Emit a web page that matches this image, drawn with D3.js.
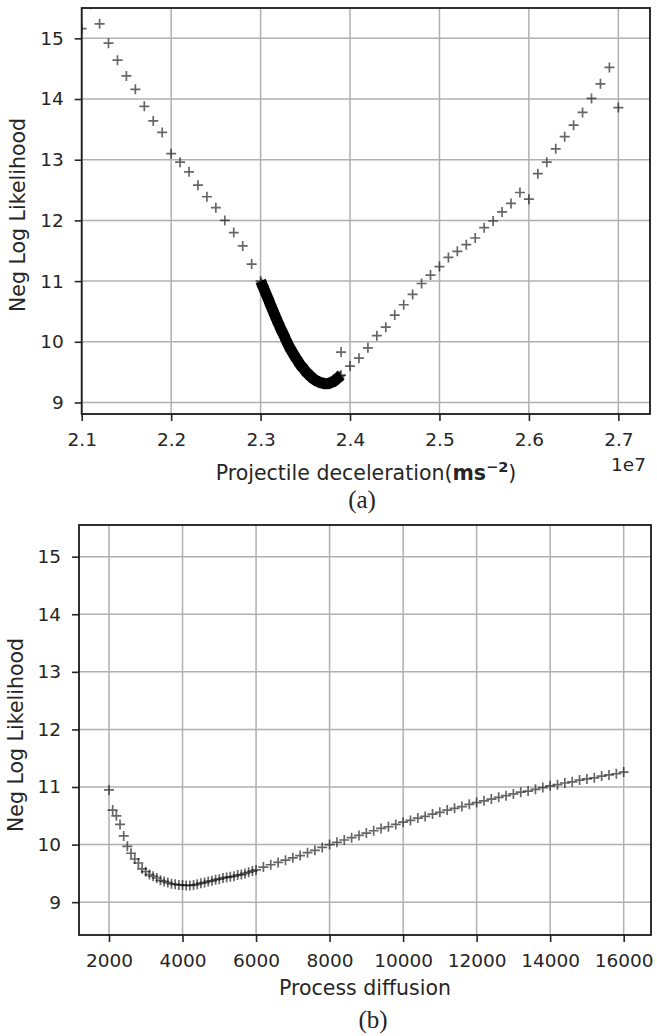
<!DOCTYPE html>
<html>
<head>
<meta charset="utf-8">
<script src="https://cdn.jsdelivr.net/npm/d3@7"></script>
<style>
body{margin:0;background:#fff;}
text{font-family:"DejaVu Sans",sans-serif;fill:#262626;}
</style>
</head>
<body>
<script>
// (a) coarse scan, deceleration in units of 1e7
var decelX = [2.10,2.11,2.12,2.13,2.14,2.15,2.16,2.17,2.18,2.19,2.20,2.21,2.22,2.23,2.24,2.25,2.26,2.27,2.28,2.29,
              2.39,2.40,2.41,2.42,2.43,2.44,2.45,2.46,2.47,2.48,2.49,2.50,2.51,2.52,2.53,2.54,2.55,2.56,2.57,2.58,
              2.59,2.60,2.61,2.62,2.63,2.64,2.65,2.66,2.67,2.68,2.69,2.70];
var decelNLL = [15.16,15.56,15.24,14.92,14.64,14.38,14.16,13.88,13.64,13.45,13.10,12.96,12.80,12.58,12.39,12.21,12.00,11.80,11.58,11.28,
                9.83,9.60,9.73,9.90,10.10,10.24,10.44,10.61,10.78,10.96,11.10,11.24,11.39,11.49,11.60,11.71,11.88,11.99,12.14,12.28,
                12.46,12.35,12.77,12.96,13.18,13.38,13.57,13.78,14.01,14.25,14.52,13.86];
// (a) fine scan near the minimum, 2.300 .. 2.390
var fineX = [2.300,2.301,2.302,2.303,2.304,2.305,2.306,2.307,2.308,2.309,2.310,2.311,2.312,2.313,2.314,2.315,2.316,2.317,2.318,2.319,
             2.320,2.321,2.322,2.323,2.324,2.325,2.326,2.327,2.328,2.329,2.330,2.331,2.332,2.333,2.334,2.335,2.336,2.337,2.338,2.339,
             2.340,2.341,2.342,2.343,2.344,2.345,2.346,2.347,2.348,2.349,2.350,2.351,2.352,2.353,2.354,2.355,2.356,2.357,2.358,2.359,
             2.360,2.361,2.362,2.363,2.364,2.365,2.366,2.367,2.368,2.369,2.370,2.371,2.372,2.373,2.374,2.375,2.376,2.377,2.378,2.379,
             2.380,2.381,2.382,2.383,2.384,2.385,2.386,2.387,2.388,2.389,2.390];
var fineNLL = [11.00,10.97,10.93,10.90,10.86,10.83,10.79,10.76,10.72,10.69,10.65,10.61,10.58,10.54,10.51,10.47,10.44,10.40,10.37,10.33,
               10.30,10.27,10.23,10.20,10.17,10.14,10.11,10.08,10.04,10.01,9.98,9.95,9.92,9.89,9.87,9.84,9.82,9.79,9.77,9.74,
               9.72,9.70,9.68,9.65,9.63,9.61,9.59,9.58,9.56,9.54,9.52,9.50,9.49,9.47,9.46,9.44,9.43,9.42,9.40,9.39,
               9.38,9.37,9.36,9.35,9.35,9.34,9.33,9.33,9.32,9.32,9.32,9.31,9.31,9.31,9.31,9.31,9.31,9.32,9.32,9.33,
               9.34,9.34,9.35,9.36,9.37,9.39,9.40,9.41,9.42,9.44,9.45];
// (b) process diffusion scan
var diffX = [2000,2100,2200,2300,2400,2500,2600,2700,2800,2900,3000,3100,3200,3300,3400,3500,3600,3700,3800,3900,
             4000,4100,4200,4300,4400,4500,4600,4700,4800,4900,5000,5100,5200,5300,5400,5500,5600,5700,5800,5900,
             6000,6200,6400,6600,6800,7000,7200,7400,7600,7800,8000,8200,8400,8600,8800,9000,9200,9400,9600,9800,
             10000,10200,10400,10600,10800,11000,11200,11400,11600,11800,12000,12200,12400,12600,12800,13000,13200,13400,13600,13800,
             14000,14200,14400,14600,14800,15000,15200,15400,15600,15800,16000];
var diffNLL = [10.95,10.60,10.50,10.35,10.15,9.97,9.85,9.75,9.68,9.58,9.53,9.48,9.45,9.42,9.38,9.36,9.34,9.32,9.31,9.30,
               9.30,9.29,9.29,9.30,9.31,9.33,9.34,9.36,9.37,9.39,9.40,9.42,9.43,9.44,9.45,9.47,9.48,9.50,9.52,9.54,
               9.56,9.61,9.65,9.69,9.73,9.77,9.81,9.86,9.90,9.95,10.00,10.04,10.08,10.12,10.16,10.20,10.24,10.28,10.31,10.35,
               10.39,10.42,10.46,10.49,10.53,10.56,10.60,10.63,10.66,10.70,10.73,10.76,10.79,10.82,10.85,10.88,10.91,10.93,10.96,10.99,
               11.02,11.04,11.07,11.09,11.12,11.14,11.16,11.19,11.21,11.23,11.26];

var decelTicks = [2.1,2.2,2.3,2.4,2.5,2.6,2.7];
var diffTicks = [2000,4000,6000,8000,10000,12000,14000,16000];
var nllTicks = [9,10,11,12,13,14,15];

var svg = d3.select("body").append("svg").attr("width",657).attr("height",1036);
var plus = "M-5,0H5M0,-5V5"; // matplotlib '+' marker

function panel(id, box, xDom, yDom, xTicks, xFmt, sets, dense) {
  var x = d3.scaleLinear().domain(xDom).range([box.l, box.r]);
  var y = d3.scaleLinear().domain(yDom).range([box.b, box.t]);
  var g = svg.append("g");

  g.append("clipPath").attr("id", id).append("rect")
    .attr("x", box.l).attr("y", box.t).attr("width", box.r - box.l).attr("height", box.b - box.t);

  // grid
  g.selectAll("line.gx").data(xTicks).join("line").attr("class","gx")
    .attr("x1", d => x(d)).attr("x2", d => x(d)).attr("y1", box.t).attr("y2", box.b)
    .attr("stroke","#b0b0b0").attr("stroke-width",1.5);
  g.selectAll("line.gy").data(nllTicks).join("line").attr("class","gy")
    .attr("y1", d => y(d)).attr("y2", d => y(d)).attr("x1", box.l).attr("x2", box.r)
    .attr("stroke","#b0b0b0").attr("stroke-width",1.5);

  var pts = g.append("g").attr("clip-path","url(#"+id+")");
  // the fine scan is so dense its markers merge into a solid band
  if (dense) {
    pts.append("path").datum(d3.zip(dense[0], dense[1]))
      .attr("d", d3.line().x(d => x(d[0])).y(d => y(d[1])))
      .attr("fill","none").attr("stroke","#000").attr("stroke-width",11).attr("stroke-linejoin","round");
  }
  // markers
  sets.forEach(function (s, k) {
    pts.selectAll("path.s"+k).data(d3.zip(s[0], s[1])).join("path").attr("class","s"+k)
      .attr("d", plus)
      .attr("transform", d => "translate("+x(d[0])+","+y(d[1])+")")
      .attr("fill","none").attr("stroke","#000").attr("stroke-opacity",0.6).attr("stroke-width",1.7);
  });

  var xa = g.append("g").attr("transform","translate(0,"+box.b+")")
    .call(d3.axisBottom(x).tickValues(xTicks).tickFormat(xFmt).tickSize(7).tickPadding(12));
  var ya = g.append("g").attr("transform","translate("+box.l+",0)")
    .call(d3.axisLeft(y).tickValues(nllTicks).tickFormat(d3.format("d")).tickSize(7).tickPadding(11));
  [xa, ya].forEach(function (a) {
    a.select(".domain").remove();
    a.selectAll("line").attr("stroke","#262626").attr("stroke-width",1.6);
    a.selectAll("text").attr("font-size","18.5px").attr("fill","#262626").attr("font-family","DejaVu Sans");
  });

  g.append("rect").attr("x", box.l).attr("y", box.t).attr("width", box.r - box.l).attr("height", box.b - box.t)
    .attr("fill","none").attr("stroke","#1a1a1a").attr("stroke-width",1.8);

  g.append("text").attr("transform","translate("+box.yl+","+box.yc+") rotate(-90)")
    .attr("text-anchor","middle").attr("font-size","20.5px").text("Neg Log Likelihood");
  return g;
}

var ga = panel("clipA", {l:81.7, r:650, t:8, b:414, yl:25, yc:215}, [2.1, 2.7354], [8.81, 15.5],
               decelTicks, d3.format(".1f"), [[decelX, decelNLL], [fineX, fineNLL]], [fineX, fineNLL]);
var lab = ga.append("text").attr("x",366).attr("y",480).attr("text-anchor","middle").attr("font-size","20.5px");
lab.append("tspan").text("Projectile deceleration(");
lab.append("tspan").attr("font-weight","bold").text("ms");
lab.append("tspan").attr("font-weight","bold").attr("font-size","14.5px").attr("dy",-8).text("\u22122");
lab.append("tspan").attr("dy",8).text(")");
ga.append("text").attr("x",646).attr("y",470.5).attr("text-anchor","end").attr("font-size","18.5px").text("1e7");
ga.append("text").attr("x",362).attr("y",508).attr("text-anchor","middle")
  .attr("font-size","25px").style("font-family","'Liberation Serif',serif").text("(a)");

var gb = panel("clipB", {l:79, r:651, t:525, b:935, yl:22.5, yc:735}, [1184, 16743], [8.43, 15.55],
               diffTicks, d3.format("d"), [[diffX, diffNLL]], null);
gb.append("text").attr("x",365).attr("y",995).attr("text-anchor","middle").attr("font-size","20.5px").text("Process diffusion");
gb.append("text").attr("x",373).attr("y",1028).attr("text-anchor","middle")
  .attr("font-size","25px").style("font-family","'Liberation Serif',serif").text("(b)");
</script>
</body>
</html>
